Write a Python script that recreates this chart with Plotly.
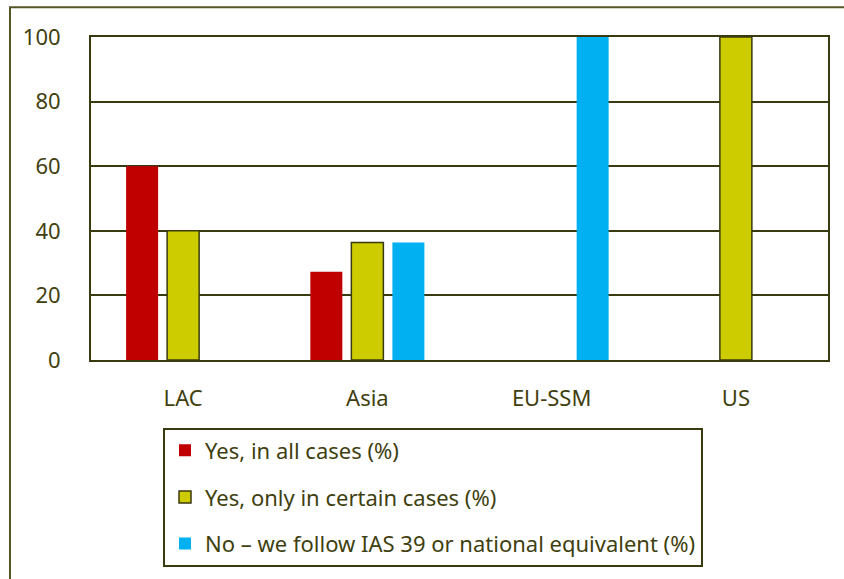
import plotly.graph_objects as go

categories = ["LAC", "Asia", "EU-SSM", "US"]
yes_all = [60, 27.3, None, None]
yes_certain = [40, 36.4, None, 100]
no_ias39 = [None, 36.4, 100, None]
series_names = [
    "Yes, in all cases (%)",
    "Yes, only in certain cases (%)",
    "No \u2013 we follow IAS 39 or national equivalent (%)",
]
y_ticks = [0, 20, 40, 60, 80, 100]

TXT = "#3f3f10"
LINE = "#3a3a10"

fig = go.Figure()
fig.add_trace(go.Bar(x=categories, y=yes_all, name=series_names[0],
                     marker=dict(color="#c00000", line=dict(width=0)),
                     legendgroup="a"))
fig.add_trace(go.Bar(x=categories, y=yes_certain, name=series_names[1],
                     marker=dict(color="#cccc00", line=dict(width=1.5, color=LINE)),
                     legendgroup="b"))
fig.add_trace(go.Bar(x=categories, y=no_ias39, name=series_names[2],
                     marker=dict(color="#00b0f0", line=dict(width=0)),
                     legendgroup="c"))

fig.update_layout(
    width=844, height=579,
    margin=dict(l=91, r=16, t=37, b=217),
    paper_bgcolor="white", plot_bgcolor="white",
    font=dict(family="Noto Sans", size=22, color=TXT),
    barmode="group", bargap=0.332, bargroupgap=0.22,
    showlegend=True,
    legend=dict(x=0.0977, y=-0.209, xanchor="left", yanchor="top",
                bordercolor=LINE, borderwidth=2, bgcolor="white",
                tracegroupgap=15, font=dict(size=22, color=TXT),
                traceorder="grouped"),
    xaxis=dict(showline=True, linecolor=LINE, linewidth=2, mirror=True,
               ticks="", showgrid=False, ticklabelstandoff=18),
    yaxis=dict(range=[0, 100], tickvals=y_ticks, showline=True, linecolor=LINE,
               linewidth=2, mirror=True, showgrid=True, gridcolor=LINE,
               gridwidth=2, ticks="", ticklabelstandoff=24, zeroline=False),
    shapes=[dict(type="rect", xref="paper", yref="paper",
                 x0=-0.1099, y0=-0.75, x1=1.3, y1=1.0923,
                 line=dict(color="#55552a", width=2), layer="below")],
)

fig.write_html("out.html")
